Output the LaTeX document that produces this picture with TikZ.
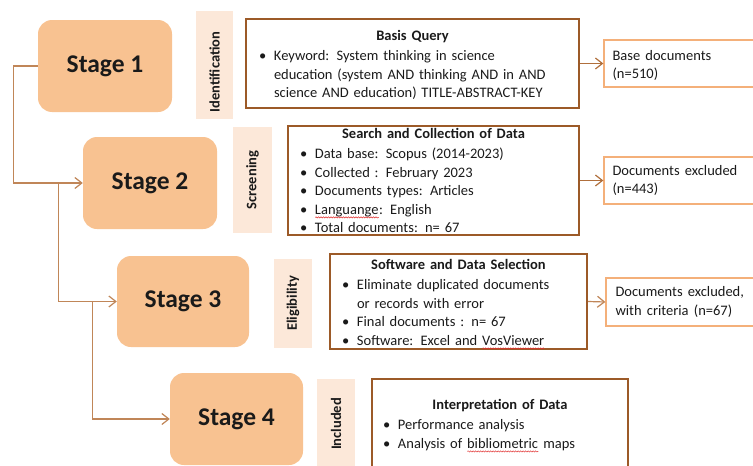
\documentclass[tikz,border=0pt]{standalone}
\usepackage{fontspec}
\setmainfont{Carlito}
\usetikzlibrary{arrows.meta,calc,positioning,decorations.pathmorphing}
\definecolor{StageFill}{HTML}{F8C291}
\definecolor{PhaseFill}{HTML}{FCE8D9}
\definecolor{BoxBrown}{HTML}{9C5A28}
\definecolor{OutOrange}{HTML}{F4B07A}
\definecolor{LinkBrown}{HTML}{C08658}
\definecolor{OutLink}{HTML}{B06F3C}
\definecolor{TextInk}{HTML}{1A1A1A}
\definecolor{SpellRed}{HTML}{E03030}
\newdimen\spellwd
\newcommand{\bodyfont}{\fontsize{14.5}{18.5}\selectfont\spaceskip 5.2pt plus 1pt minus 0.5pt\relax}
\newcommand{\boxhead}[1]{{\centering\bfseries #1\par}\vspace{2pt}}
\newcommand{\bitem}[1]{\par\hangindent=15pt\hangafter=1\noindent\makebox[15pt][l]{\textbullet}#1\par}
\newcommand{\spell}[1]{\leavevmode\setbox0=\hbox{#1}\spellwd=\wd0\rlap{\box0}%
  \tikz[baseline=0pt]\draw[SpellRed, line width=0.5pt, decorate, decoration={snake, amplitude=0.6pt, segment length=2.5pt}] (0pt,-3pt) -- (\spellwd,-3pt);}
\tikzset{
  every node/.style={text=TextInk, font=\bodyfont},
  stagebox/.style={fill=StageFill, rounded corners=14pt, minimum width=134pt, minimum height=92pt, inner sep=0pt, font=\fontsize{25.5}{30}\selectfont\bfseries},
  phase/.style={fill=PhaseFill, rotate=90, inner sep=0pt, font=\fontsize{14.5}{17}\selectfont\bfseries},
  infobox/.style={draw=BoxBrown, line width=2pt, inner sep=0pt},
  infotext/.style={inner sep=0pt, align=left, anchor=north},
  outbox/.style={draw=OutOrange, line width=1.3pt, inner sep=0pt, minimum width=156pt, minimum height=47pt},
  outtext/.style={inner sep=0pt, align=left, anchor=west},
  link/.style={-{Straight Barb[length=7pt,width=11pt]}, draw=LinkBrown, line width=1.2pt},
  outlink/.style={link, draw=OutLink},
}
\begin{document}
\begin{tikzpicture}[x=1pt,y=1pt]
  \useasboundingbox (0,0) rectangle (753,-466);
  \clip (0,0) rectangle (753,-466);
  % Stages
  \node[stagebox] (s1) at (105,-66) {Stage 1};
  \node[stagebox] (s2) at (150,-183) {Stage 2};
  \node[stagebox, minimum width=132pt, minimum height=91pt] (s3) at (183,-301.5) {Stage 3};
  \node[stagebox, minimum width=133pt] (s4) at (236.5,-419) {Stage 4};
  % Phase strips
  \node[phase, minimum width=108pt, minimum height=37pt] (ident) at (214.5,-65) {};
  \node[phase] (identtxt) at ($(ident.center)+(0,-7)$) {Identification};
  \node[phase, minimum width=106pt, minimum height=39pt] (screen) at (252.5,-180) {Screening};
  \node[phase, minimum width=89pt, minimum height=38pt] (elig) at (293,-303.5) {Eligibility};
  \node[phase, minimum width=90pt, minimum height=38pt] (incl) at (336,-424) {Included};
  % Content boxes
  \node[infobox, minimum width=333pt, minimum height=89pt] (basis) at (412.5,-63.5) {};
  \node[infobox, minimum width=291pt, minimum height=109pt] (search) at (433.5,-180.5) {};
  \node[infobox, minimum width=257pt, minimum height=95pt] (soft) at (458.5,-301.5) {};
  \node[infobox, minimum width=256pt, minimum height=96pt] (interp) at (500,-427) {};
  \node[infotext, text width=307pt] (basistxt) at ($(basis.north)+(0,-12)$) {%
    \boxhead{Basis Query}
    \bitem{Keyword: System thinking in science\newline education (system AND thinking AND in AND\newline science AND education) TITLE-ABSTRACT-KEY}};
  \node[infotext, text width=267pt] (searchtxt) at ($(search.north)+(0,-3)$) {%
    \boxhead{Search and Collection of Data}
    \bitem{Data base: Scopus (2014-2023)}
    \bitem{Collected : February 2023}
    \bitem{Documents types: Articles}
    \bitem{\spell{Languange}: English}
    \bitem{Total documents: n= 67}};
  \node[infotext, text width=233pt] (softtxt) at ($(soft.north)+(0,-6)$) {%
    \boxhead{Software and Data Selection}
    \bitem{Eliminate duplicated documents\newline or records with error}
    \bitem{Final documents : n= 67}
    \bitem{Software: Excel and \spell{VosViewer}}};
  \node[infotext, text width=234pt] (interptxt) at ($(interp.north)+(0,-21)$) {%
    \boxhead{Interpretation of Data}
    \bitem{Performance analysis}
    \bitem{Analysis of \spell{bibliometric} maps}};
  % Result boxes
  \node[outbox] (base) at (682,-63.5) {};
  \node[outbox] (excl) at (682,-180.5) {};
  \node[outbox, minimum width=154pt, minimum height=48pt] (crit) at (683,-302) {};
  \node[outtext] (basetxt) at ($(base.west)+(9,-2)$) {Base documents\\(n=510)};
  \node[outtext] (excltxt) at ($(excl.west)+(9,0)$) {Documents excluded\\(n=443)};
  \node[outtext] (crittxt) at ($(crit.west)+(10,0)$) {Documents excluded,\\with criteria (n=67)};
  % Connectors
  \draw[link] (s1.west) -- ++(-24,0) |- (s2.west);
  \draw[link] ($(s2.west)+(-24,0)$) |- (s3.west);
  \draw[link] ($(s3.west)+(-24,0)$) |- (s4.west);
  \draw[outlink] (basis.east) -- (base.west);
  \draw[outlink] (search.east) -- (excl.west);
  \draw[link] (soft.east) -- (crit.west);
\end{tikzpicture}
\end{document}
